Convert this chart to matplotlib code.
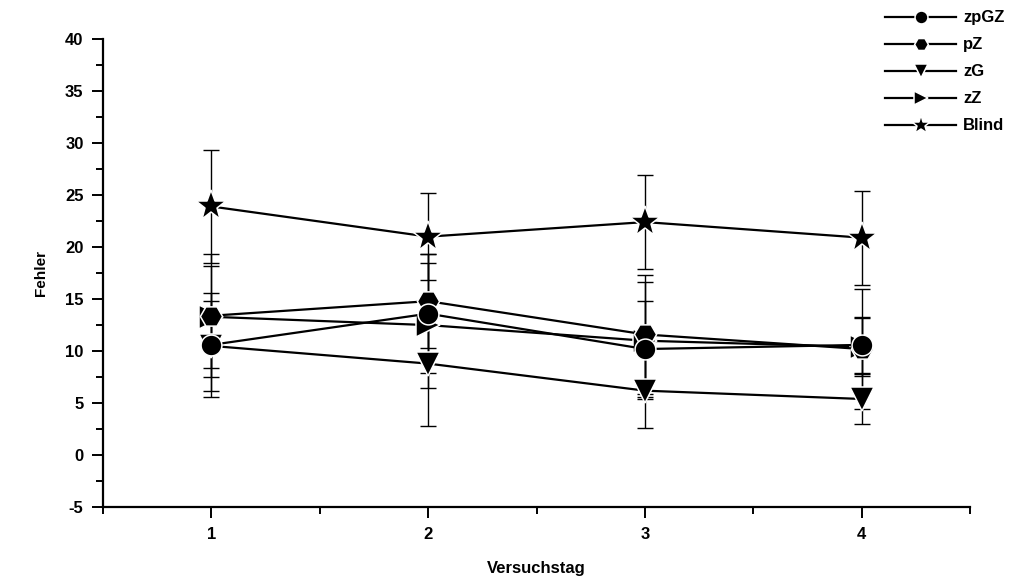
import numpy as np
import matplotlib
matplotlib.use("Agg")
import matplotlib.pyplot as plt
from matplotlib.ticker import MultipleLocator

plt.rcParams['font.family'] = ['Liberation Sans', 'DejaVu Sans']
plt.rcParams['font.weight'] = 'bold'
plt.rcParams['axes.unicode_minus'] = False

days = [1, 2, 3, 4]

# means and standard deviations
zpGZ = [10.6, 13.6, 10.2, 10.6]
zpGZ_err = [5.0, 5.7, 4.6, 2.7]
pZ = [13.4, 14.8, 11.6, 10.2]
pZ_err = [5.9, 4.5, 5.7, 5.8]
zG = [10.5, 8.8, 6.2, 5.4]
zG_err = [4.3, 6.0, 3.6, 2.4]
zZ = [13.3, 12.5, 11.0, 10.4]
zZ_err = [4.9, 6.0, 5.6, 2.8]
blind = [23.9, 21.0, 22.4, 20.9]
blind_err = [5.4, 4.2, 4.5, 4.5]

series = [
    ("zpGZ", zpGZ, zpGZ_err, "o", 15),
    ("pZ", pZ, pZ_err, "H", 16),
    ("zG", zG, zG_err, "v", 17),
    ("zZ", zZ, zZ_err, ">", 17),
    ("Blind", blind, blind_err, "*", 23),
]

fig = plt.figure(figsize=(10.30, 5.81), dpi=100)
ax = fig.add_axes([0.1, 0.127, 0.842, 0.806])

for name, vals, err, mk, ms in series:
    ax.errorbar(days, vals, yerr=err, fmt='none', ecolor='black',
                elinewidth=1.0, capsize=6, capthick=1.0, zorder=2)
for i, (name, vals, err, mk, ms) in enumerate(series):
    ax.plot(days, vals, color='black', lw=1.6, marker=mk, ms=ms,
            mfc='black', mec='white', mew=1.1, label=name, zorder=10 - i)

ax.set_xlim(0.5, 4.5)
ax.set_ylim(-5, 40)
ax.xaxis.set_major_locator(MultipleLocator(1))
ax.xaxis.set_minor_locator(MultipleLocator(0.5))
ax.yaxis.set_major_locator(MultipleLocator(5))
ax.yaxis.set_minor_locator(MultipleLocator(2.5))
ax.spines['top'].set_visible(False)
ax.spines['right'].set_visible(False)
for s in ('left', 'bottom'):
    ax.spines[s].set_linewidth(1.6)
ax.tick_params(which='major', direction='out', length=8, width=1.4,
               labelsize=12, pad=6)
ax.tick_params(which='minor', direction='out', length=5, width=1.4)
for lbl in ax.get_xticklabels() + ax.get_yticklabels():
    lbl.set_fontweight('bold')

ax.set_xlabel("Versuchstag", fontsize=12, fontweight='bold', labelpad=14)
ax.set_ylabel("Fehler", fontsize=11, fontweight='bold', labelpad=12)

leg = ax.legend(loc='upper left', bbox_to_anchor=(0.859, 0.982),
                bbox_transform=fig.transFigure,
                frameon=False, numpoints=1, handlelength=4.3,
                markerscale=0.62, fontsize=12, labelspacing=0.72,
                handletextpad=0.4, borderaxespad=0, borderpad=0)
for t in leg.get_texts():
    t.set_fontweight('bold')

fig.savefig("out.png", dpi=100, facecolor='white')
